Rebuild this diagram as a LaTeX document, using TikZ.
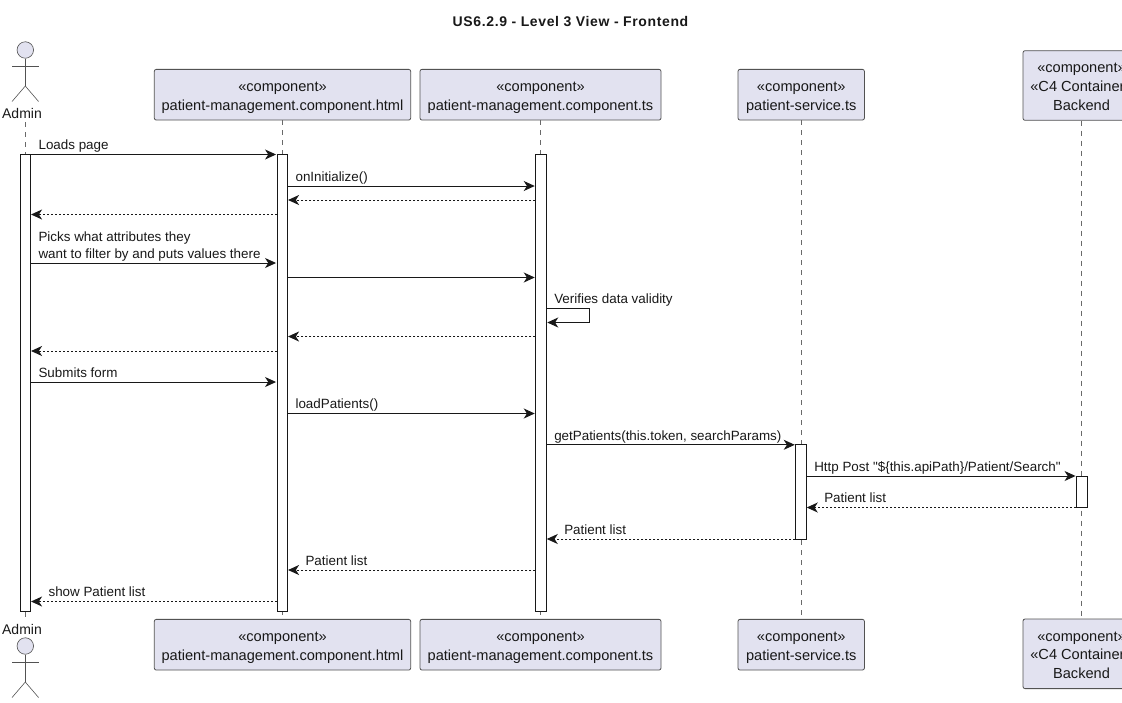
\documentclass[tikz,border=0pt]{standalone}
\usepackage{fontspec}
\setmainfont{Liberation Sans}
\newfontfamily\titlefont[LetterSpace=4.5]{Liberation Sans}
\newfontfamily\msgfont{Liberation Sans}
\usetikzlibrary{arrows.meta,positioning,calc}
\definecolor{partfill}{HTML}{E2E2F0}
\definecolor{ink}{HTML}{181818}
\tikzset{
  partbox/.style={draw=ink!75, line width=0.8pt, fill=partfill, rounded corners=2pt, align=center, inner sep=0pt, text=ink, font=\fontsize{14.6}{18.6}\selectfont, text height=30.6pt, text depth=0pt},
  actorname/.style={inner sep=0pt, text=ink, font=\fontsize{14}{16}\selectfont},
  actorline/.style={draw=ink!75, line width=0.6pt},
  lifeline/.style={draw=ink!65, line width=0.7pt, dash pattern=on 5pt off 5pt},
  activebar/.style={draw=ink, line width=1pt, fill=white, minimum width=10.5pt, inner sep=0pt},
  msg/.style={draw=ink, line width=1pt, -{Stealth[length=11pt,width=10pt,inset=3.2pt]}, shorten >=0.5pt},
  reply/.style={msg, dash pattern=on 2pt off 2pt, shorten >=0pt},
  msgtext/.style={anchor=base west, inner sep=0pt, text=ink, font=\msgfont\fontsize{13.4}{17}\selectfont, align=left}
}
\begin{document}
\begin{tikzpicture}[x=1pt,y=-1pt]
  \clip (0,0) rectangle (1122,702);
  \node[inner sep=0pt, text=ink, font=\titlefont\bfseries\fontsize{14}{15}\selectfont] (title) at (570.5,21.7) {US6.2.9 - Level 3 View - Frontend};

  % participants
  \node[actorname] (adminT) at (22,113) {Admin};
  \node[actorname] (adminB) at (22,629) {Admin};
  \node[partbox, minimum width=256.4pt, minimum height=50.7pt] (htmlT) at (282.5,94.7) {«component»\\patient-management.component.html};
  \node[partbox, minimum width=241pt, minimum height=50.7pt, right=8.5pt of htmlT] (tsT) {«component»\\patient-management.component.ts};
  \node[partbox, minimum width=126.4pt, minimum height=50.7pt] (serviceT) at (801.2,94.7) {«component»\\patient-service.ts};
  \node[partbox, minimum width=117pt, minimum height=69.6pt, text height=49pt] (backendT) at (1081.5,85.5) {«component»\\«C4 Container»\\Backend};
  \node[partbox, minimum width=256.4pt, minimum height=50.7pt] (htmlB) at (282.5,644.7) {«component»\\patient-management.component.html};
  \node[partbox, minimum width=241pt, minimum height=50.7pt, right=8.5pt of htmlB] (tsB) {«component»\\patient-management.component.ts};
  \node[partbox, minimum width=126.4pt, minimum height=50.7pt] (serviceB) at (801.2,644.7) {«component»\\patient-service.ts};
  \node[partbox, minimum width=117pt, minimum height=69.6pt, text height=49pt] (backendB) at (1081.5,653.8) {«component»\\«C4 Container»\\Backend};

  % actor figures
  \foreach \n/\y in {T/50, B/646} {
    \node[circle, draw=ink!75, line width=0.6pt, fill=partfill, minimum size=16.5pt, inner sep=0pt] (head\n) at (25.3,\y) {};
    \draw[actorline] (head\n.south) -- ++(0,27.5) coordinate (hip\n);
    \draw[actorline] ($(head\n.south)+(-13.3,8)$) -- ++(26.6,0);
    \draw[actorline] (hip\n) -- ++(-13.3,15.5);
    \draw[actorline] (hip\n) -- ++(13.3,15.5);
  }

  % lifelines
  \coordinate (adminTop) at (25,122);
  \coordinate (adminEnd) at (25,618);
  \draw[lifeline] (adminTop) -- (adminEnd);
  \draw[lifeline] (htmlT.south) -- (htmlB.north);
  \draw[lifeline] (tsT.south) -- (tsB.north);
  \draw[lifeline] (serviceT.south) -- (serviceB.north);
  \draw[lifeline] (backendT.south) -- (backendB.north);

  % activations
  \node[activebar, minimum height=456.5pt] (adminbar) at (25.3,383) {};
  \node[activebar, minimum height=456.5pt] (htmlbar) at (282.3,383) {};
  \node[activebar, minimum height=456.5pt] (tsbar) at (541,383) {};
  \node[activebar, minimum height=94.5pt] (servicebar) at (801,491.8) {};
  \node[activebar, minimum height=31.3pt] (backendbar) at (1081.8,491.7) {};

  % messages
  \coordinate (m1) at (0,154.5);
  \coordinate (m2) at (0,186);
  \coordinate (m3) at (0,200);
  \coordinate (m4) at (0,214.5);
  \coordinate (m5) at (0,263);
  \coordinate (m6) at (0,277.5);
  \coordinate (m7) at (0,308.5);
  \coordinate (m8) at (0,322.5);
  \coordinate (m9) at (0,336.5);
  \coordinate (m10) at (0,351);
  \coordinate (m11) at (0,382);
  \coordinate (m12) at (0,413.5);
  \coordinate (m13) at (0,444.8);
  \coordinate (m14) at (0,476);
  \coordinate (m15) at (0,507.5);
  \coordinate (m16) at (0,539);
  \coordinate (m17) at (0,570);
  \coordinate (m18) at (0,601.5);

  \draw[msg] (adminbar.east |- m1) -- (htmlbar.west |- m1) node[msgtext, pos=0, xshift=7pt, yshift=4.6pt] {Loads page};
  \draw[msg] (htmlbar.east |- m2) -- (tsbar.west |- m2) node[msgtext, pos=0, xshift=7pt, yshift=4.6pt] {onInitialize()};
  \draw[reply] (tsbar.west |- m3) -- (htmlbar.east |- m3);
  \draw[reply] (htmlbar.west |- m4) -- (adminbar.east |- m4);
  \draw[msg] (adminbar.east |- m5) -- (htmlbar.west |- m5) node[msgtext, pos=0, xshift=7pt, yshift=4.6pt] {Picks what attributes they\\want to filter by and puts values there};
  \draw[msg] (htmlbar.east |- m6) -- (tsbar.west |- m6);
  \draw[msg] (tsbar.east |- m7) -- ++(43,0) node[msgtext, pos=0, xshift=7pt, yshift=4.6pt] {Verifies data validity} |- (tsbar.east |- m8);
  \draw[reply] (tsbar.west |- m9) -- (htmlbar.east |- m9);
  \draw[reply] (htmlbar.west |- m10) -- (adminbar.east |- m10);
  \draw[msg] (adminbar.east |- m11) -- (htmlbar.west |- m11) node[msgtext, pos=0, xshift=7pt, yshift=4.6pt] {Submits form};
  \draw[msg] (htmlbar.east |- m12) -- (tsbar.west |- m12) node[msgtext, pos=0, xshift=7pt, yshift=4.6pt] {loadPatients()};
  \draw[msg] (tsbar.east |- m13) -- (servicebar.west |- m13) node[msgtext, pos=0, xshift=7pt, yshift=4.6pt] {getPatients(this.token, searchParams)};
  \draw[msg] (servicebar.east |- m14) -- (backendbar.west |- m14) node[msgtext, pos=0, xshift=7pt, yshift=4.6pt] {Http Post "\$\{this.apiPath\}/Patient/Search"};
  \draw[reply] (backendbar.west |- m15) -- (servicebar.east |- m15) node[msgtext, pos=1, xshift=17pt, yshift=4.6pt] {Patient list};
  \draw[reply] (servicebar.west |- m16) -- (tsbar.east |- m16) node[msgtext, pos=1, xshift=17pt, yshift=4.6pt] {Patient list};
  \draw[reply] (tsbar.west |- m17) -- (htmlbar.east |- m17) node[msgtext, pos=1, xshift=17pt, yshift=4.6pt] {Patient list};
  \draw[reply] (htmlbar.west |- m18) -- (adminbar.east |- m18) node[msgtext, pos=1, xshift=17pt, yshift=4.6pt] {show Patient list};
\end{tikzpicture}
\end{document}
